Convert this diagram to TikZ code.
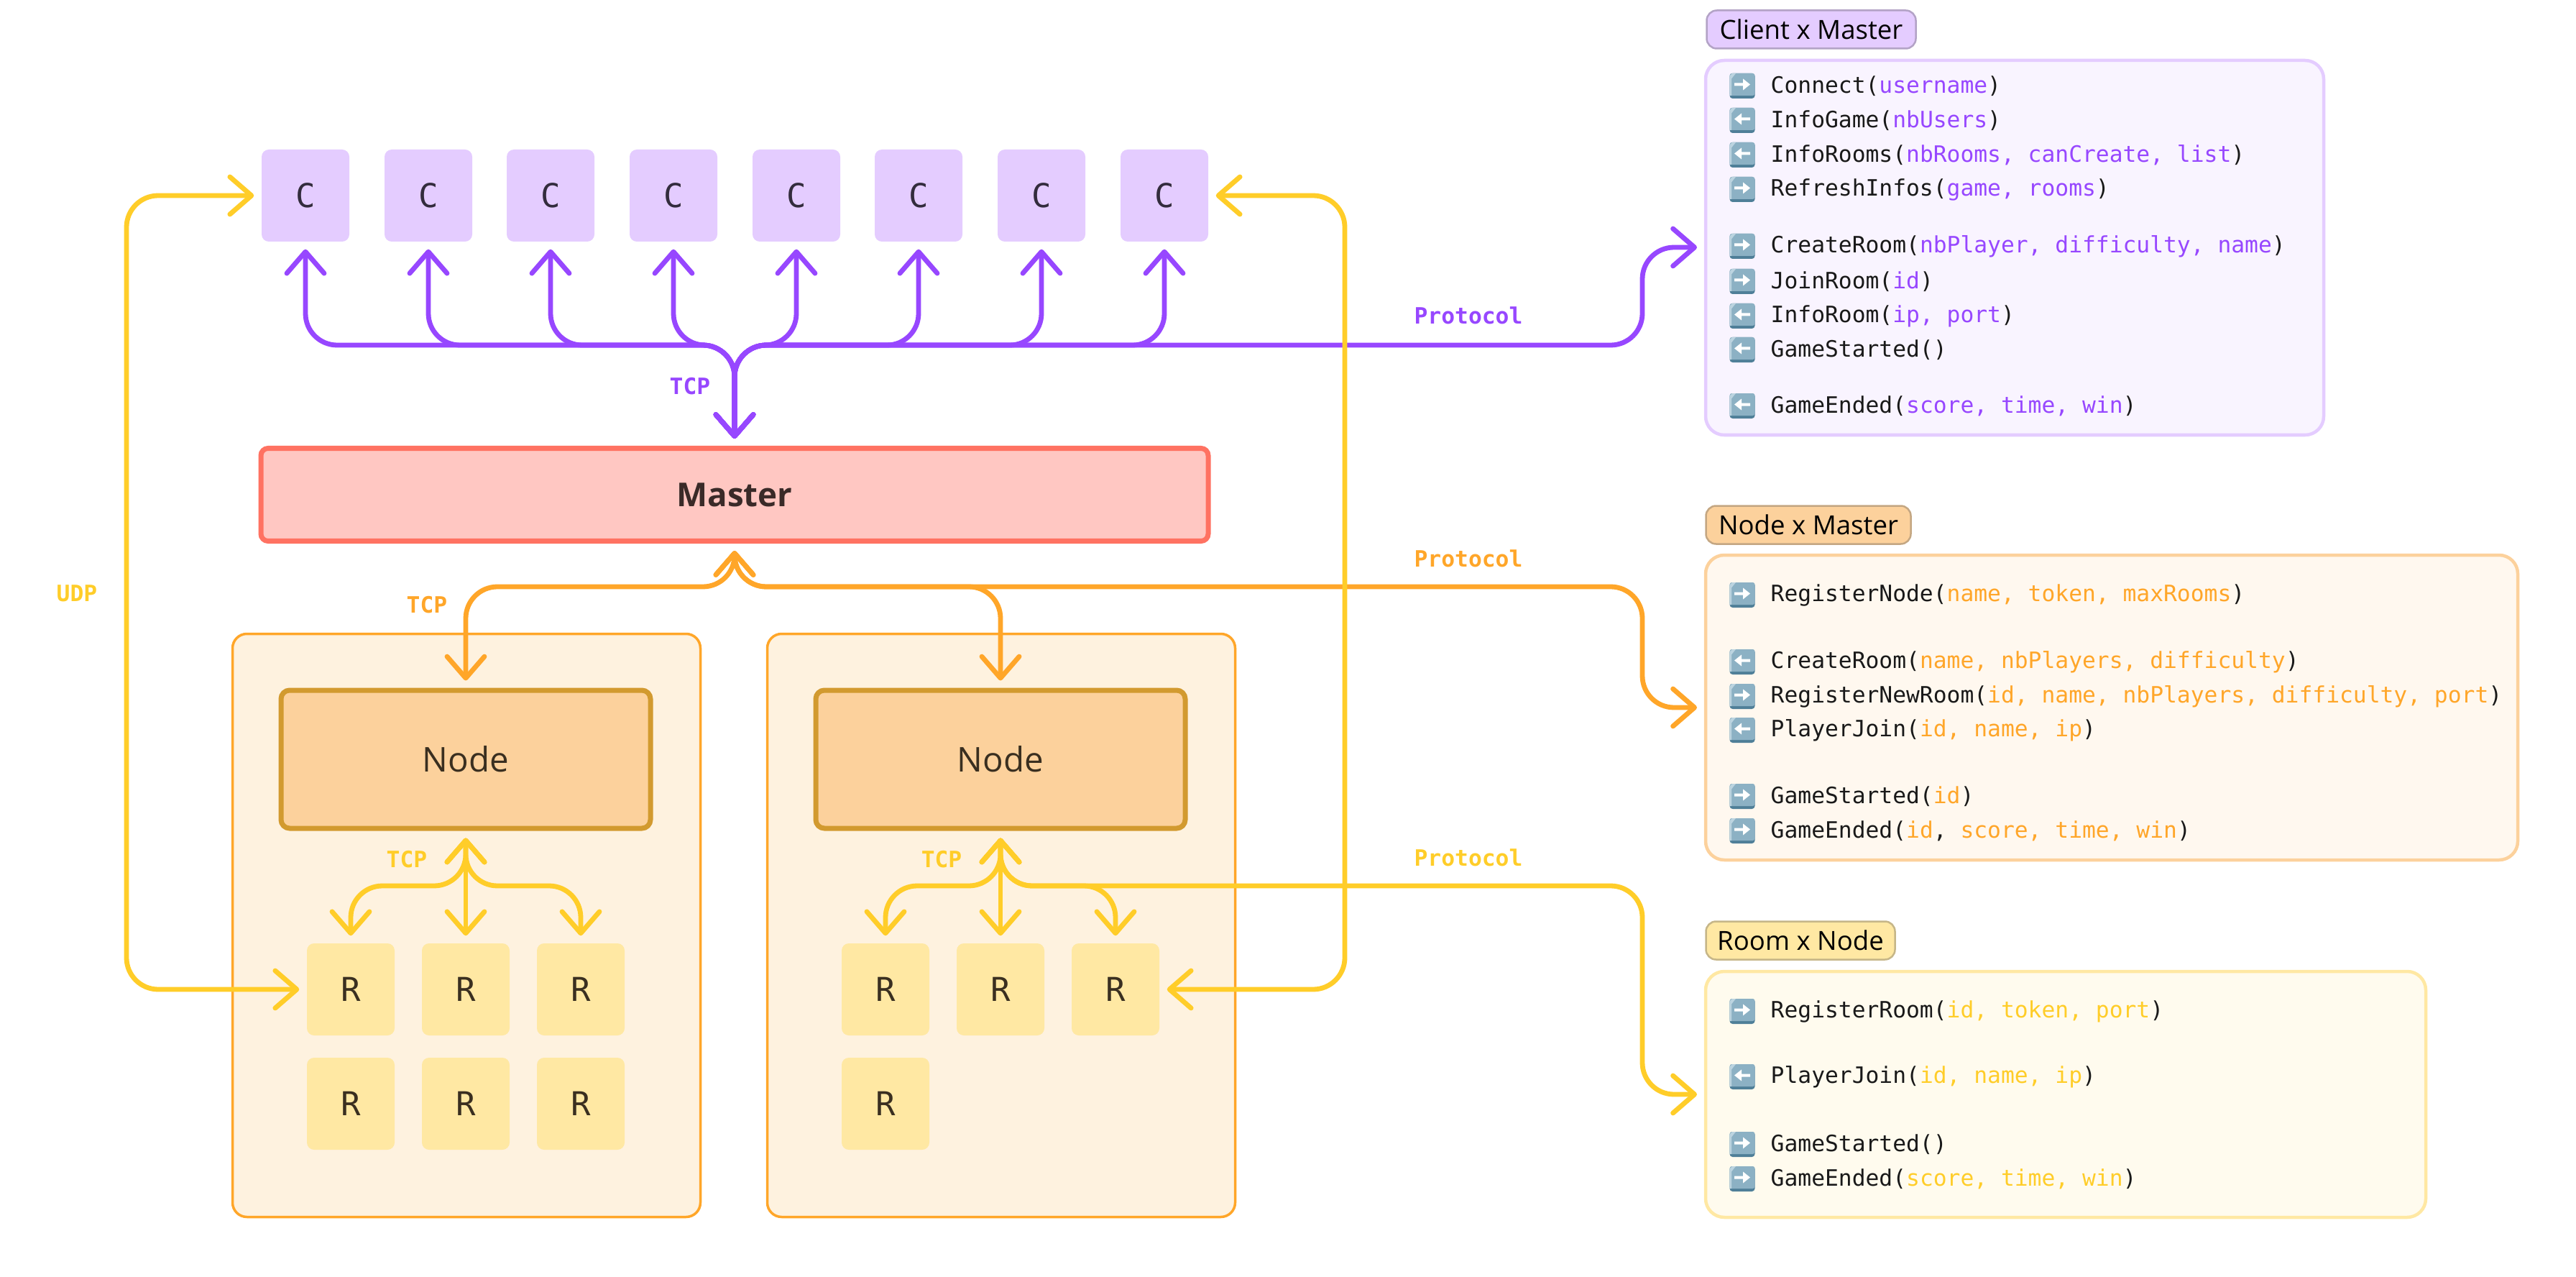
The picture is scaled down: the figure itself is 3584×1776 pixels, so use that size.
\documentclass[tikz,border=0pt]{standalone}
\usepackage{fontspec}
\usepackage{tikz}
\usetikzlibrary{arrows.meta}

\setmainfont{Open Sans}
\setmonofont{DejaVu Sans Mono}

\definecolor{purpleline}{HTML}{9747FF}
\definecolor{orangeline}{HTML}{FFA629}
\definecolor{yellowline}{HTML}{FFCD29}
\definecolor{clientfill}{HTML}{E4CCFF}
\definecolor{masterfill}{HTML}{FFC7C2}
\definecolor{masterline}{HTML}{FF7262}
\definecolor{nodefill}{HTML}{FCD19C}
\definecolor{nodeline}{HTML}{D29A2F}
\definecolor{groupfill}{HTML}{FEF2DF}
\definecolor{roomfill}{HTML}{FFE8A3}
\definecolor{keyblue}{HTML}{8CB1C4}
\definecolor{keydark}{HTML}{4F7F98}
\definecolor{keylight}{HTML}{BCD4E0}
\definecolor{clienttext}{HTML}{332C3D}
\definecolor{mastertext}{HTML}{3A2A28}
\definecolor{nodetext}{HTML}{3A2F20}

\newcommand{\argp}[1]{\textcolor{purpleline}{#1}}
\newcommand{\argo}[1]{\textcolor{orangeline}{#1}}
\newcommand{\argy}[1]{\textcolor{yellowline}{#1}}
\newcommand{\keybox}{
    \fill[keydark,rounded corners=0.4mm] (-17.5,-17.5) rectangle (17.5,17.5);
    \fill[keyblue,rounded corners=0.3mm] (-17.5,-17.5) rectangle (17.5,13.5);
    \fill[keylight] (-17.5,-14) -- (-14,-17.5) -- (-9,-17.5) -- (-15,-10) -- (-15,13.5) -- (-17.5,13.5) -- cycle;
}

\tikzset{
    clientbox/.style={fill=clientfill,rounded corners=1mm,minimum width=122*0.01cm,minimum height=128*0.01cm,
        font=\ttfamily\fontsize{13pt}{15pt}\selectfont,text=clienttext},
    roombox/.style={fill=roomfill,rounded corners=1mm,minimum width=122*0.01cm,minimum height=128*0.01cm,
        font=\ttfamily\fontsize{13pt}{15pt}\selectfont,text=nodetext},
    masterbox/.style={draw=masterline,line width=0.7mm,fill=masterfill,rounded corners=1mm,
        minimum width=1318*0.01cm,minimum height=129*0.01cm,
        font=\bfseries\fontsize{13pt}{15pt}\selectfont,text=mastertext},
    nodebox/.style={draw=nodeline,line width=0.7mm,fill=nodefill,rounded corners=1.2mm,
        minimum width=514*0.01cm,minimum height=192*0.01cm,
        font=\fontsize{13.5pt}{15pt}\selectfont,text=nodetext},
    groupbox/.style={draw=orangeline,line width=0.35mm,fill=groupfill,rounded corners=2mm,
        minimum width=651*0.01cm,minimum height=811*0.01cm},
    panelbox/.style={line width=0.45mm,rounded corners=2.6mm},
    tabbox/.style={line width=0.25mm,rounded corners=1.4mm,text=black,
        font=\fontsize{10.4pt}{12pt}\selectfont,minimum height=53*0.01cm},
    msg/.style={anchor=west,inner sep=0pt,yshift=-0.25mm,text=black!90,font=\ttfamily\fontsize{8.9pt}{11pt}\selectfont},
    linklabel/.style={inner sep=0pt,font=\ttfamily\bfseries\fontsize{8.9pt}{11pt}\selectfont},
    link/.style={line width=0.68mm,rounded corners=4.4mm,line cap=round,
        {Straight Barb[length=3mm,width=5.2mm,round]}-{Straight Barb[length=3mm,width=5.2mm,round]},
        shorten <=1mm,shorten >=1mm},
    purplelink/.style={link,draw=purpleline},
    orangelink/.style={link,draw=orangeline},
    yellowlink/.style={link,draw=yellowline},
    every pic/.style={yshift=-0.25mm},
    pics/keyright/.style={code={
        \keybox
        \fill[white] (-11,-4) -- (1,-4) -- (1,-10) -- (11,-2) -- (1,6) -- (1,0) -- (-11,0) -- cycle;
    }},
    pics/keyleft/.style={code={
        \keybox
        \fill[white] (11,-4) -- (-1,-4) -- (-1,-10) -- (-11,-2) -- (-1,6) -- (-1,0) -- (11,0) -- cycle;
    }},
}

\begin{document}
\begin{tikzpicture}[x=0.01cm,y=-0.01cm]
    \useasboundingbox (0,0) rectangle (3584,1776);

    % clients
    \node[clientbox] (c1) at (425,272) {C};
    \node[clientbox] (c2) at (596,272) {C};
    \node[clientbox] (c3) at (766,272) {C};
    \node[clientbox] (c4) at (937,272) {C};
    \node[clientbox] (c5) at (1108,272) {C};
    \node[clientbox] (c6) at (1278,272) {C};
    \node[clientbox] (c7) at (1449,272) {C};
    \node[clientbox] (c8) at (1620,272) {C};

    \node[masterbox] (master) at (1022,688) {Master};

    % the two node groups
    \node[groupbox] (groupa) at (649,1287) {};
    \node[groupbox] (groupb) at (1393,1287) {};
    \node[nodebox] (nodea) at (648,1056) {Node};
    \node[nodebox] (nodeb) at (1392,1056) {Node};

    \node[roombox] (r1) at (488,1376) {R};
    \node[roombox] (r2) at (648,1376) {R};
    \node[roombox] (r3) at (808,1376) {R};
    \node[roombox] (r4) at (488,1535) {R};
    \node[roombox] (r5) at (648,1535) {R};
    \node[roombox] (r6) at (808,1535) {R};
    \node[roombox] (r7) at (1232,1376) {R};
    \node[roombox] (r8) at (1392,1376) {R};
    \node[roombox] (r9) at (1552,1376) {R};
    \node[roombox] (r10) at (1232,1535) {R};

    % protocol panels
    \node[tabbox,draw=clientfill!75!black!90,fill=clientfill,minimum width=291*0.01cm] (tabclient) at (2520,41) {Client x Master};
    \draw[panelbox,draw=clientfill,fill=clientfill!22!white] (2373,84) rectangle (3233,605);
    \coordinate (clientpanel) at (2373,344);

    \node[tabbox,draw=nodefill!75!black!90,fill=nodefill,minimum width=285*0.01cm] (tabnode) at (2516,730) {Node x Master};
    \draw[panelbox,draw=nodefill,fill=nodefill!16!white] (2373,772) rectangle (3503,1196);
    \coordinate (nodepanel) at (2373,984);

    \node[tabbox,draw=roomfill!75!black!90,fill=roomfill,minimum width=263*0.01cm] (tabroom) at (2505,1308) {Room x Node};
    \draw[panelbox,draw=roomfill,fill=roomfill!18!white] (2373,1351) rectangle (3375,1693);
    \coordinate (roompanel) at (2373,1522);

    % client - master
    \coordinate (hubc) at (1022,480);
    \coordinate (bendc) at (2285,480);
    \draw[purplelink] (c1.south) |- (hubc) -- (master.north);
    \draw[purplelink] (c2.south) |- (hubc) -- (master.north);
    \draw[purplelink] (c3.south) |- (hubc) -- (master.north);
    \draw[purplelink] (c4.south) |- (hubc) -- (master.north);
    \draw[purplelink] (c5.south) |- (hubc) -- (master.north);
    \draw[purplelink] (c6.south) |- (hubc) -- (master.north);
    \draw[purplelink] (c7.south) |- (hubc) -- (master.north);
    \draw[purplelink] (c8.south) |- (hubc) -- (master.north);
    \draw[purplelink,shorten >=1.2mm] (master.north) -- (hubc) -- (bendc) |- (clientpanel);

    % node - master
    \coordinate (hubo) at (1022,816);
    \coordinate (bendo) at (2285,816);
    \draw[orangelink] (nodea.north) |- (hubo) -- (master.south);
    \draw[orangelink] (nodeb.north) |- (hubo) -- (master.south);
    \draw[orangelink,shorten >=1.2mm] (master.south) -- (hubo) -- (bendo) |- (nodepanel);

    % room - node
    \coordinate (huba) at (648,1232);
    \coordinate (hubb) at (1392,1232);
    \coordinate (bendy) at (2285,1232);
    \draw[yellowlink] (r1.north) |- (huba) -- (nodea.south);
    \draw[yellowlink] (r2.north) -- (nodea.south);
    \draw[yellowlink] (r3.north) |- (huba) -- (nodea.south);
    \draw[yellowlink] (r7.north) |- (hubb) -- (nodeb.south);
    \draw[yellowlink] (r8.north) -- (nodeb.south);
    \draw[yellowlink] (r9.north) |- (hubb) -- (nodeb.south);
    \draw[yellowlink,shorten >=1.2mm] (nodeb.south) -- (hubb) -- (bendy) |- (roompanel);

    % udp between clients and rooms
    \coordinate (udpleft) at (176,824);
    \coordinate (udpright) at (1871,824);
    \draw[yellowlink] (c1.west) -| (udpleft) |- (r1.west);
    \draw[yellowlink] (c8.east) -| (udpright) |- (r9.east);

    \node[linklabel,text=yellowline] (udplabel) at (107,825) {UDP};
    \node[linklabel,text=purpleline] (tcpc) at (960,537) {TCP};
    \node[linklabel,text=orangeline] (tcpo) at (594,841) {TCP};
    \node[linklabel,text=yellowline] (tcpa) at (566,1195) {TCP};
    \node[linklabel,text=yellowline] (tcpb) at (1310,1195) {TCP};
    \node[linklabel,text=purpleline] (protoc) at (2043,439) {Protocol};
    \node[linklabel,text=orangeline] (protoo) at (2043,777) {Protocol};
    \node[linklabel,text=yellowline] (protoy) at (2043,1193) {Protocol};

    % client x master messages
    \pic at (2424,117) {keyright};
    \node[msg] (cm1) at (2463,117) {Connect(\argp{username})};
    \pic at (2424,165) {keyleft};
    \node[msg] (cm2) at (2463,165) {InfoGame(\argp{nbUsers})};
    \pic at (2424,213) {keyleft};
    \node[msg] (cm3) at (2463,213) {InfoRooms(\argp{nbRooms, canCreate, list})};
    \pic at (2424,261) {keyright};
    \node[msg] (cm4) at (2463,261) {RefreshInfos(\argp{game, rooms})};
    \pic at (2424,340) {keyright};
    \node[msg] (cm5) at (2463,340) {CreateRoom(\argp{nbPlayer, difficulty, name})};
    \pic at (2424,389) {keyright};
    \node[msg] (cm6) at (2463,389) {JoinRoom(\argp{id})};
    \pic at (2424,437) {keyleft};
    \node[msg] (cm7) at (2463,437) {InfoRoom(\argp{ip, port})};
    \pic at (2424,484) {keyleft};
    \node[msg] (cm8) at (2463,484) {GameStarted()};
    \pic at (2424,562) {keyleft};
    \node[msg] (cm9) at (2463,562) {GameEnded(\argp{score, time, win})};

    % node x master messages
    \pic at (2424,825) {keyright};
    \node[msg] (nm1) at (2463,825) {RegisterNode(\argo{name, token, maxRooms})};
    \pic at (2424,918) {keyleft};
    \node[msg] (nm2) at (2463,918) {CreateRoom(\argo{name, nbPlayers, difficulty})};
    \pic at (2424,966) {keyright};
    \node[msg] (nm3) at (2463,966) {RegisterNewRoom(\argo{id, name, nbPlayers, difficulty, port})};
    \pic at (2424,1013) {keyleft};
    \node[msg] (nm4) at (2463,1013) {PlayerJoin(\argo{id, name, ip})};
    \pic at (2424,1105) {keyright};
    \node[msg] (nm5) at (2463,1105) {GameStarted(\argo{id})};
    \pic at (2424,1153) {keyright};
    \node[msg] (nm6) at (2463,1153) {GameEnded(\argo{id}, \argo{score, time, win})};

    % room x node messages
    \pic at (2424,1404) {keyright};
    \node[msg] (rn1) at (2463,1404) {RegisterRoom(\argy{id, token, port})};
    \pic at (2424,1495) {keyleft};
    \node[msg] (rn2) at (2463,1495) {PlayerJoin(\argy{id, name, ip})};
    \pic at (2424,1589) {keyright};
    \node[msg] (rn3) at (2463,1589) {GameStarted()};
    \pic at (2424,1637) {keyright};
    \node[msg] (rn4) at (2463,1637) {GameEnded(\argy{score, time, win})};
\end{tikzpicture}
\end{document}
